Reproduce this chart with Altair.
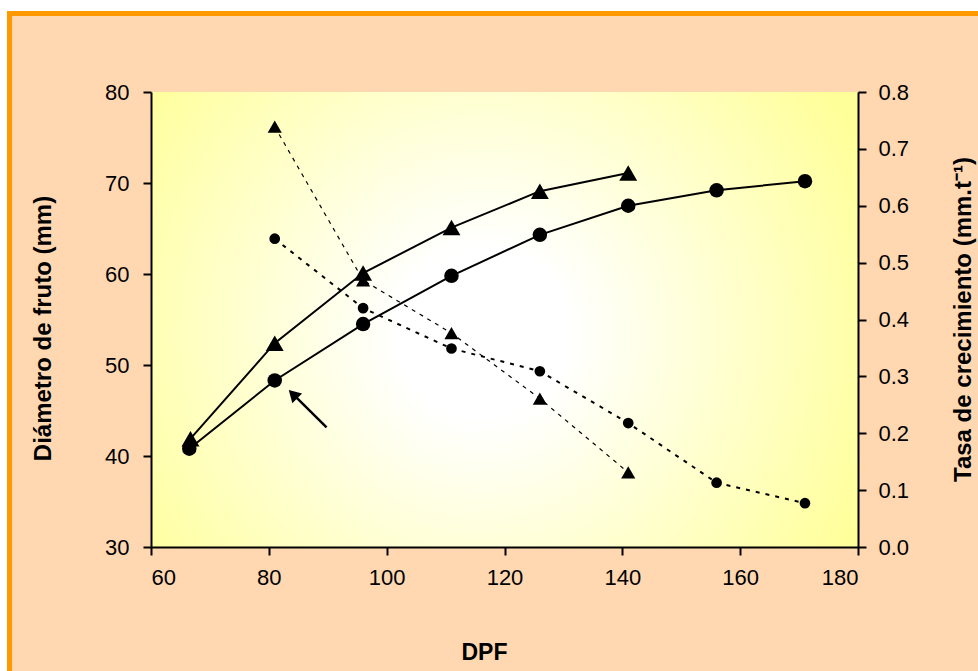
import altair as alt
import pandas as pd

# ---- data ----
dpf_dia_circ = [66.5, 81, 96, 111, 126, 141, 156, 171]
dia_circ = [40.8, 48.3, 54.5, 59.8, 64.3, 67.5, 69.2, 70.2]
dpf_dia_tri = [66.7, 81, 96, 111, 126, 141]
dia_tri = [41.9, 52.4, 60.1, 65.1, 69.1, 71.1]
dpf_rate_tri = [81, 96, 111, 126, 141]
rate_tri = [0.739, 0.469, 0.376, 0.261, 0.131]
dpf_rate_circ = [81, 96, 111, 126, 141, 156, 171]
rate_circ = [0.542, 0.420, 0.349, 0.309, 0.218, 0.113, 0.077]

# arrow annotation (data units): tail -> head
arrow_tail = [89.8, 43.15]
arrow_head = [84.1, 46.8]

x_ticks = [60, 80, 100, 120, 140, 160, 180]
yl_ticks = [30, 40, 50, 60, 70, 80]
yr_ticks = [0.0, 0.1, 0.2, 0.3, 0.4, 0.5, 0.6, 0.7, 0.8]

FONT = "Liberation Sans"
W, H = 707, 455
PAD = {"left": 151, "top": 92, "right": 120, "bottom": 124}

common_axis = dict(
    grid=False, zindex=1, domainColor="black", domainWidth=2,
    tickColor="black", tickWidth=2, tickSize=8,
    labelColor="black", labelFont=FONT, labelFontSize=22,
    titleColor="black", titleFont=FONT, titleFontWeight="bold",
)

x_enc = alt.X(
    "x:Q",
    scale=alt.Scale(domain=[60, 180], nice=False, zero=False),
    axis=alt.Axis(
        values=x_ticks, format="d", title="DPF", labelPadding=12,
        titleX=333, titleY=105, titleAlign="center", titleBaseline="middle",
        titleFontSize=23, **common_axis,
    ),
)
yl_scale = alt.Scale(domain=[30, 80], nice=False, zero=False)
yl_axis = alt.Axis(
    orient="left", values=yl_ticks, format="d",
    title="Diámetro de fruto (mm)", labelPadding=14,
    titleX=-108, titleY=236, titleAngle=270, titleAlign="center",
    titleBaseline="middle", titleFontSize=24, **common_axis,
)
yr_scale = alt.Scale(domain=[0, 0.8], nice=False, zero=False)
yr_axis = alt.Axis(
    orient="right", values=yr_ticks, format=".1f",
    title="Tasa de crecimiento (mm.t⁻¹)", labelPadding=12,
    titleX=105, titleY=227, titleAngle=270, titleAlign="center",
    titleBaseline="middle", titleFontSize=24, **common_axis,
)

yl_enc = alt.Y("y:Q", scale=yl_scale, axis=yl_axis)
yr_enc = alt.Y("y:Q", scale=yr_scale, axis=yr_axis)

df_dc = pd.DataFrame({"x": dpf_dia_circ, "y": dia_circ})
df_dt = pd.DataFrame({"x": dpf_dia_tri, "y": dia_tri})
df_rt = pd.DataFrame({"x": dpf_rate_tri, "y": rate_tri})
df_rc = pd.DataFrame({"x": dpf_rate_circ, "y": rate_circ})
df_arrow = pd.DataFrame({"x": [arrow_tail[0]], "y": [arrow_tail[1]],
                         "x2": [arrow_head[0]], "y2": [arrow_head[1]]})
df_head = pd.DataFrame({"x": [arrow_head[0]], "y": [arrow_head[1]]})

one = alt.Data(values=[{"a": 1}])

# decorative frame (orange border, peach background)
frame = alt.Chart(one).mark_rect(
    fill="#FFD8B2", stroke="#FF9900", strokeWidth=5
).encode(
    x=alt.value(-141.5), y=alt.value(-78.5),
    x2=alt.value(W + 140), y2=alt.value(H + 140),
)

grad = alt.RadialGradient(
    gradient="radial",
    stops=[
        alt.GradientStop(color="#FFFFFF", offset=0),
        alt.GradientStop(color="#FFFFFF", offset=0.2),
        alt.GradientStop(color="#FFFF99", offset=1),
    ],
    x1=0.47, y1=0.52, r1=0, x2=0.47, y2=0.52, r2=0.6,
)
plotbg = alt.Chart(one).mark_rect(fill=grad).encode(
    x=alt.value(0), y=alt.value(0), x2=alt.value(W), y2=alt.value(H),
)

INTERP = "linear"

# left (diameter) series
dc_line = alt.Chart(df_dc).mark_line(
    color="black", strokeWidth=2, interpolate=INTERP
).encode(x=x_enc, y=yl_enc)
dc_pts = alt.Chart(df_dc).mark_point(
    shape="circle", filled=True, color="black", opacity=1, size=210
).encode(x=x_enc, y=yl_enc)
dt_line = alt.Chart(df_dt).mark_line(
    color="black", strokeWidth=2, interpolate=INTERP
).encode(x=x_enc, y=yl_enc)
dt_pts = alt.Chart(df_dt).mark_point(
    shape="triangle-up", filled=True, color="black", opacity=1, size=320
).encode(x=x_enc, y=yl_enc)
arrow_line = alt.Chart(df_arrow).mark_rule(
    color="black", strokeWidth=2.5
).encode(x=x_enc, y=yl_enc, x2="x2:Q", y2="y2:Q")
arrow_pt = alt.Chart(df_head).mark_point(
    shape="triangle-up", angle=315, filled=True, color="black",
    opacity=1, size=190
).encode(x=x_enc, y=yl_enc)

left = alt.layer(dc_line, dt_line, dc_pts, dt_pts, arrow_line, arrow_pt)

# right (rate) series
rt_line = alt.Chart(df_rt).mark_line(
    color="black", strokeWidth=1.2, strokeDash=[4, 5], interpolate=INTERP
).encode(x=x_enc, y=yr_enc)
rt_pts = alt.Chart(df_rt).mark_point(
    shape="triangle-up", filled=True, color="black", opacity=1, size=200
).encode(x=x_enc, y=yr_enc)
rc_line = alt.Chart(df_rc).mark_line(
    color="black", strokeWidth=2, strokeDash=[4, 6], interpolate=INTERP
).encode(x=x_enc, y=yr_enc)
rc_pts = alt.Chart(df_rc).mark_point(
    shape="circle", filled=True, color="black", opacity=1, size=115
).encode(x=x_enc, y=yr_enc)

right = alt.layer(rt_line, rc_line, rt_pts, rc_pts)

chart = alt.layer(frame, plotbg, left, right).resolve_scale(
    y="independent"
).properties(
    width=W, height=H,
    autosize=alt.AutoSizeParams(type="none"),
    padding=PAD,
    background="white",
).configure_view(stroke=None)

chart.save("out.html", embed_options={"renderer": "svg", "actions": False})
